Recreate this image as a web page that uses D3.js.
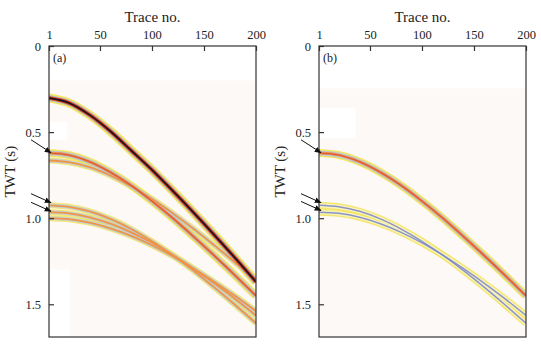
<!DOCTYPE html>
<html>
<head>
<meta charset="utf-8">
<script src="https://cdn.jsdelivr.net/npm/d3@7"></script>
<style>
  body { margin: 0; background: #fff; }
  text { font-family: "Liberation Serif", "Times New Roman", serif; fill: #222; }
</style>
</head>
<body>
<svg id="fig"></svg>
<script>
var width = 541,
    height = 349;

// trace numbers at which the event times were read
var traces = [1, 20, 40, 60, 80, 100, 120, 140, 160, 180, 200];
var traceTicks = [1, 50, 100, 150, 200];
var timeTicks = [0, 0.5, 1.0, 1.5];

// panel (a) event times, s
var a1 = [0.302, 0.330, 0.400, 0.495, 0.607, 0.720, 0.842, 0.968, 1.098, 1.232, 1.370];
var a2 = [0.621, 0.633, 0.672, 0.733, 0.810, 0.901, 1.000, 1.107, 1.218, 1.333, 1.451];
var a3 = [0.665, 0.675, 0.704, 0.752, 0.815, 0.889, 0.972, 1.062, 1.158, 1.257, 1.360];
var a4 = [0.925, 0.934, 0.960, 1.004, 1.063, 1.134, 1.215, 1.305, 1.402, 1.504, 1.610];
var a5 = [0.965, 0.972, 0.995, 1.032, 1.082, 1.143, 1.214, 1.293, 1.378, 1.469, 1.565];
var a6 = [1.000, 1.006, 1.026, 1.059, 1.103, 1.157, 1.221, 1.292, 1.370, 1.452, 1.540];

// panel (b) event times, s
var b1 = [0.621, 0.633, 0.672, 0.733, 0.810, 0.901, 1.000, 1.107, 1.218, 1.333, 1.451];
var b2 = [0.925, 0.934, 0.960, 1.004, 1.063, 1.134, 1.215, 1.305, 1.402, 1.504, 1.610];
var b3 = [0.965, 0.972, 0.995, 1.032, 1.082, 1.143, 1.214, 1.293, 1.378, 1.469, 1.565];

// arrows: times the arrow heads point to
var arrowsA = [0.62, 0.91, 0.96];
var arrowsB = [0.62, 0.91, 0.955];

var svg = d3.select('#fig')
    .attr('width', width)
    .attr('height', height);

var defs = svg.append('defs');
defs.append('marker')
    .attr('id', 'arr')
    .attr('viewBox', '0 0 10 10')
    .attr('refX', 9).attr('refY', 5)
    .attr('markerWidth', 7).attr('markerHeight', 7)
    .attr('orient', 'auto')
    .append('path')
    .attr('d', 'M0,1L10,5L0,9z')
    .attr('fill', '#111');

var y = d3.scaleLinear().domain([0, 1.69]).range([46, 337]);

var strong = [
  {c: '#f2e24c', w: 9, o: 0.9},
  {c: '#a9bfdc', w: 6, o: 0.9},
  {c: '#e3452c', w: 4, o: 1},
  {c: '#1c1414', w: 1.8, o: 1}
];
var medium = [
  {c: '#f2e24c', w: 8, o: 0.85},
  {c: '#b3c5e0', w: 5, o: 0.9},
  {c: '#ee8a44', w: 2.8, o: 0.95},
  {c: '#d9452e', w: 1.1, o: 0.8}
];
var weak = [
  {c: '#f2e24c', w: 7, o: 0.8},
  {c: '#fbf3c8', w: 4.2, o: 0.9},
  {c: '#7d8cc6', w: 1.5, o: 0.9}
];
var orange = [
  {c: '#f2e24c', w: 6, o: 0.75},
  {c: '#bccbe4', w: 3.8, o: 0.85},
  {c: '#f0913f', w: 1.8, o: 0.95}
];

function panel(id, x0, label, events, arrows, bgTop, patches) {
  var x = d3.scaleLinear().domain([1, 200]).range([x0, x0 + 207]);
  var g = svg.append('g').attr('id', id);

  defs.append('clipPath').attr('id', 'clip-' + id)
    .append('rect')
    .attr('x', x(1)).attr('y', y(0))
    .attr('width', x(200) - x(1)).attr('height', y(1.69) - y(0));

  // faint background of the section image
  g.append('rect')
    .attr('x', x(1)).attr('y', y(bgTop))
    .attr('width', x(200) - x(1)).attr('height', y(1.69) - y(bgTop))
    .attr('fill', '#fdf9f6');
  patches.forEach(function(p) {
    g.append('rect')
      .attr('x', x(p[0])).attr('y', y(p[2]))
      .attr('width', x(p[1]) - x(p[0])).attr('height', y(p[3]) - y(p[2]))
      .attr('fill', '#fff');
  });

  var line = d3.line()
    .x(function(d, i) { return x(traces[i]); })
    .y(function(d) { return y(d); })
    .curve(d3.curveCatmullRom);

  var ev = g.append('g').attr('clip-path', 'url(#clip-' + id + ')');
  // draw layer by layer so the yellow rims sit under every core
  [0, 1, 2, 3].forEach(function(k) {
    events.forEach(function(e) {
      var s = e.style[k];
      if (!s) return;
      ev.append('path')
        .attr('d', line(e.t))
        .attr('fill', 'none')
        .attr('stroke', s.c)
        .attr('stroke-width', s.w)
        .attr('stroke-opacity', s.o);
    });
  });

  g.append('rect')
    .attr('x', x(1)).attr('y', y(0))
    .attr('width', x(200) - x(1)).attr('height', y(1.69) - y(0))
    .attr('fill', 'none')
    .attr('stroke', '#333')
    .attr('stroke-width', 1.2);

  var xa = g.append('g')
    .attr('transform', 'translate(0,' + y(0) + ')')
    .call(d3.axisTop(x).tickValues(traceTicks).tickSize(-5).tickPadding(7));
  var ya = g.append('g')
    .attr('transform', 'translate(' + x(1) + ',0)')
    .call(d3.axisLeft(y).tickValues(timeTicks).tickSize(-5).tickPadding(6)
      .tickFormat(function(d) { return d === 0 ? '0' : d3.format('.1f')(d); }));
  [xa, ya].forEach(function(a) {
    a.attr('font-family', '"Liberation Serif", serif').attr('font-size', 12.5);
    a.select('.domain').remove();
    a.selectAll('line').attr('stroke', '#333').attr('stroke-width', 1.2);
    a.selectAll('text').attr('fill', '#222');
  });
  ya.selectAll('text').attr('dx', -2);

  g.append('text')
    .attr('x', (x(1) + x(200)) / 2).attr('y', 22)
    .attr('text-anchor', 'middle')
    .attr('font-size', 15)
    .text('Trace no.');
  g.append('text')
    .attr('transform', 'translate(' + (x0 - 34) + ',' + y(0.73) + ') rotate(-90)')
    .attr('text-anchor', 'middle')
    .attr('font-size', 15)
    .text('TWT (s)');
  g.append('text')
    .attr('x', x(1) + 4).attr('y', y(0) + 16)
    .attr('font-size', 12)
    .text(label);

  arrows.forEach(function(t, i) {
    var dy = i === 0 ? 13 : 9;
    g.append('line')
      .attr('x1', x0 - 18).attr('y1', y(t) - dy)
      .attr('x2', x0 + 2).attr('y2', y(t))
      .attr('stroke', '#111')
      .attr('stroke-width', 1)
      .attr('marker-end', 'url(#arr)');
  });
}

panel('pa', 49, '(a)', [
  {t: a4, style: orange},
  {t: a5, style: orange},
  {t: a6, style: orange},
  {t: a3, style: orange},
  {t: a2, style: medium},
  {t: a1, style: strong}
], arrowsA, 0.2, [[1, 18.5, 0.44, 0.545], [1, 21, 1.3, 1.69]]);

panel('pb', 319, '(b)', [
  {t: b2, style: weak},
  {t: b3, style: weak},
  {t: b1, style: medium}
], arrowsB, 0.245, [[1, 36, 0.36, 0.535]]);
</script>
</body>
</html>
